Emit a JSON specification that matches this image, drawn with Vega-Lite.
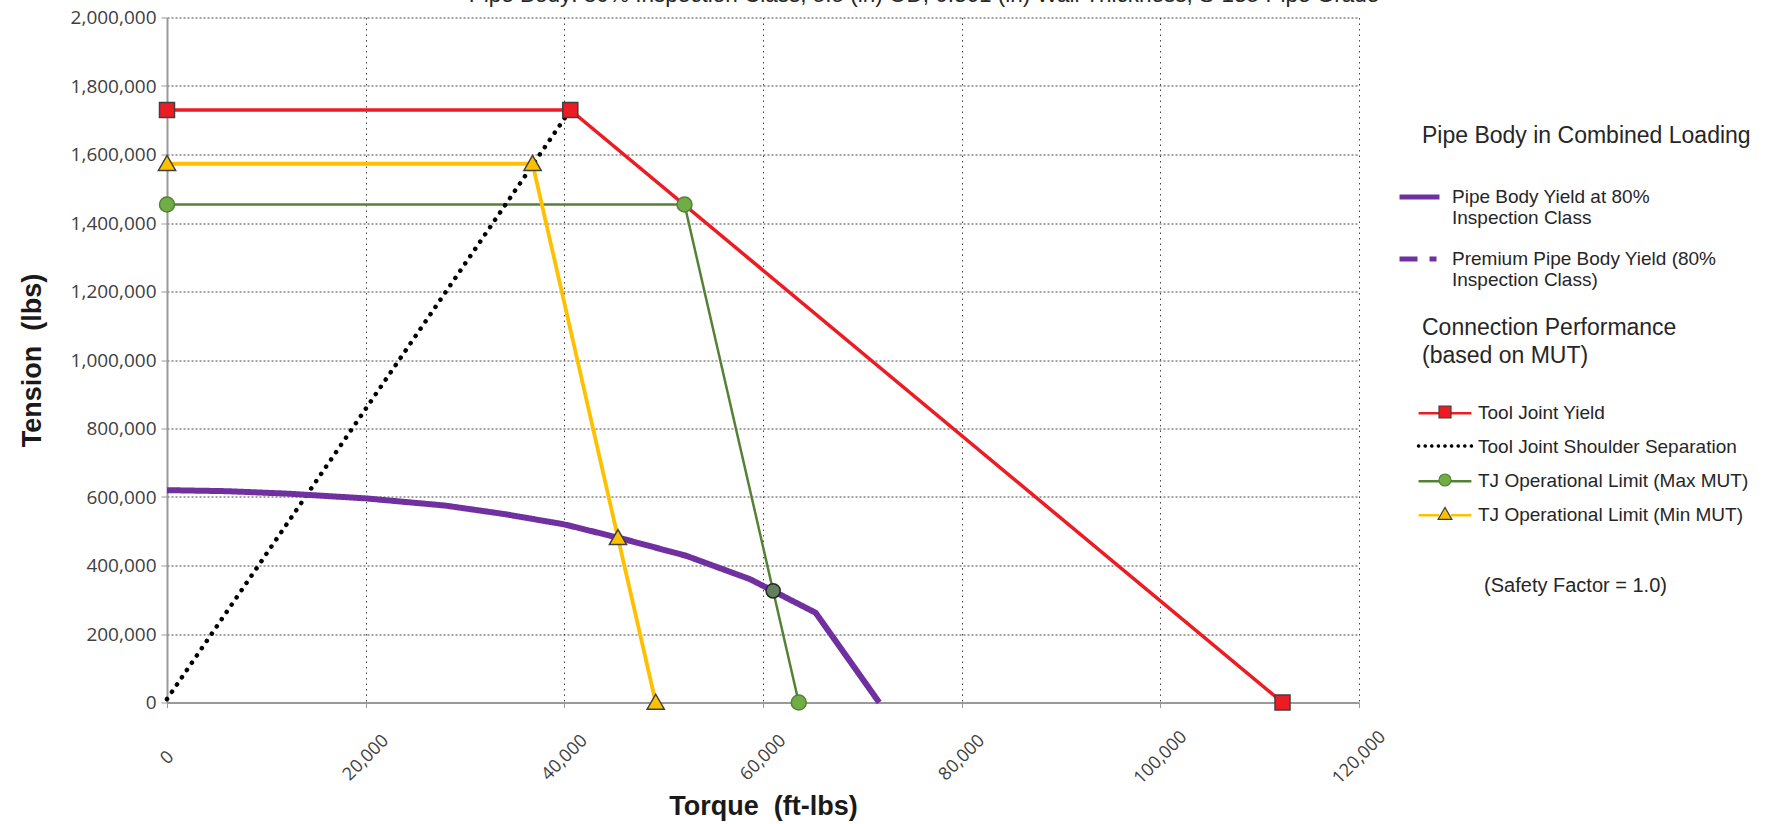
{
  "$schema": "https://vega.github.io/schema/vega-lite/v6.json",
  "width": 1192,
  "height": 685,
  "autosize": {"type": "none"},
  "padding": {"left": 167, "top": 17.5, "right": 412, "bottom": 121.5},
  "background": "white",
  "config": {
    "view": {"stroke": null},
    "legend": {
      "titleFont": "Liberation Sans",
      "titleFontWeight": "normal",
      "titleColor": "#262626",
      "labelFont": "Liberation Sans",
      "labelColor": "#262626",
      "labelLimit": 600,
      "titleLimit": 600,
      "padding": 0
    }
  },
  "title": {
    "text": "Pipe Body: 80% Inspection Class; 5.5 (in) OD; 0.361 (in) Wall Thickness; S-135 Pipe Grade",
    "font": "Liberation Sans",
    "fontSize": 22.5,
    "fontWeight": "normal",
    "color": "#262626",
    "anchor": "middle",
    "dx": 161,
    "dy": 16,
    "offset": 0.5,
    "baseline": "alphabetic"
  },
  "datasets": {
    "conn": [
      {"series": "Tool Joint Yield", "torque": 0, "tension": 1730000, "kind": "vertex"},
      {"series": "Tool Joint Yield", "torque": 40600, "tension": 1730000, "kind": "vertex"},
      {"series": "Tool Joint Yield", "torque": 112300, "tension": 0, "kind": "vertex"},
      {"series": "Tool Joint Shoulder Separation", "torque": 0, "tension": 10000, "kind": "vertex"},
      {"series": "Tool Joint Shoulder Separation", "torque": 40600, "tension": 1730000, "kind": "vertex"},
      {"series": "TJ Operational Limit (Max MUT)", "torque": 0, "tension": 1454000, "kind": "vertex"},
      {"series": "TJ Operational Limit (Max MUT)", "torque": 52100, "tension": 1454000, "kind": "vertex"},
      {"series": "TJ Operational Limit (Max MUT)", "torque": 61020, "tension": 326000, "kind": "intersection"},
      {"series": "TJ Operational Limit (Max MUT)", "torque": 63600, "tension": 0, "kind": "vertex"},
      {"series": "TJ Operational Limit (Min MUT)", "torque": 0, "tension": 1573000, "kind": "vertex"},
      {"series": "TJ Operational Limit (Min MUT)", "torque": 36800, "tension": 1573000, "kind": "vertex"},
      {"series": "TJ Operational Limit (Min MUT)", "torque": 45400, "tension": 481000, "kind": "intersection"},
      {"series": "TJ Operational Limit (Min MUT)", "torque": 49200, "tension": 0, "kind": "vertex"}
    ],
    "pipe": [
      {"curve": "Pipe Body Yield at 80% Inspection Class", "torque": 0, "tension": 620000},
      {"curve": "Pipe Body Yield at 80% Inspection Class", "torque": 6000, "tension": 617000},
      {"curve": "Pipe Body Yield at 80% Inspection Class", "torque": 12000, "tension": 610000},
      {"curve": "Pipe Body Yield at 80% Inspection Class", "torque": 20000, "tension": 596000},
      {"curve": "Pipe Body Yield at 80% Inspection Class", "torque": 28000, "tension": 575000},
      {"curve": "Pipe Body Yield at 80% Inspection Class", "torque": 34000, "tension": 550000},
      {"curve": "Pipe Body Yield at 80% Inspection Class", "torque": 40000, "tension": 520000},
      {"curve": "Pipe Body Yield at 80% Inspection Class", "torque": 46000, "tension": 477000},
      {"curve": "Pipe Body Yield at 80% Inspection Class", "torque": 52300, "tension": 428000},
      {"curve": "Pipe Body Yield at 80% Inspection Class", "torque": 58700, "tension": 360000},
      {"curve": "Pipe Body Yield at 80% Inspection Class", "torque": 65300, "tension": 262000},
      {"curve": "Pipe Body Yield at 80% Inspection Class", "torque": 71700, "tension": 0}
    ]
  },
  "encoding": {
    "x": {
      "field": "torque",
      "type": "quantitative",
      "scale": {"domain": [0, 120000], "nice": false},
      "axis": {
        "title": "Torque\u00a0 (ft-lbs)",
        "values": [0, 20000, 40000, 60000, 80000, 100000, 120000],
        "format": ",.0f",
        "labelAngle": -45,
        "labelAlign": "center",
        "labelBaseline": "middle",
        "labelPadding": 50,
        "labelFont": "Open Sans",
        "labelFontSize": 18,
        "labelColor": "#404040",
        "labelOverlap": false,
        "tickSize": 5,
        "tickColor": "#999999",
        "domainColor": "#999999",
        "domainWidth": 2,
        "grid": true,
        "gridColor": "#444444",
        "gridDash": [1.5, 4],
        "gridWidth": 1,
        "titleFont": "Liberation Sans",
        "titleFontSize": 27,
        "titleFontWeight": "bold",
        "titleColor": "#1a1a1a",
        "titlePadding": 6
      }
    },
    "y": {
      "field": "tension",
      "type": "quantitative",
      "scale": {"domain": [0, 2000000], "nice": false},
      "axis": {
        "title": "Tension\u00a0 (lbs)",
        "values": [0, 200000, 400000, 600000, 800000, 1000000, 1200000, 1400000, 1600000, 1800000, 2000000],
        "format": ",.0f",
        "labelFont": "Open Sans",
        "labelFontSize": 19,
        "labelColor": "#404040",
        "labelPadding": 5,
        "tickSize": 6,
        "tickColor": "#999999",
        "domainColor": "#999999",
        "domainWidth": 2,
        "grid": true,
        "gridColor": "#444444",
        "gridDash": [2, 2],
        "gridWidth": 1,
        "titleFont": "Liberation Sans",
        "titleFontSize": 27,
        "titleFontWeight": "bold",
        "titleColor": "#1a1a1a",
        "titlePadding": 24
      }
    }
  },
  "layer": [
    {
      "data": {"name": "conn"},
      "transform": [{"filter": "datum.series === 'TJ Operational Limit (Max MUT)'"}],
      "mark": {"type": "line", "strokeWidth": 2.5},
      "encoding": {
        "color": {
          "field": "series",
          "type": "nominal",
          "scale": {
            "domain": ["Tool Joint Yield", "Tool Joint Shoulder Separation", "TJ Operational Limit (Max MUT)", "TJ Operational Limit (Min MUT)"],
            "range": ["#ed1c24", "transparent", "#548235", "#ffc000"]
          },
          "legend": {
            "title": ["Connection Performance", "(based on MUT)"],
            "orient": "none",
            "legendX": 1255,
            "legendY": 299.3,
            "titleFontSize": 23,
            "titleLineHeight": 28,
            "titlePadding": 36,
            "labelFontSize": 19,
            "labelOffset": 37,
            "symbolSize": 144,
            "symbolType": "M-2.15,0H1.25M3.25,0H6.65",
            "symbolStrokeWidth": 2.5,
            "rowPadding": 14
          }
        }
      }
    },
    {
      "data": {"name": "conn"},
      "transform": [{"filter": "datum.series === 'TJ Operational Limit (Min MUT)'"}],
      "mark": {"type": "line", "strokeWidth": 3.8},
      "encoding": {"color": {"field": "series", "type": "nominal"}}
    },
    {
      "data": {"name": "conn"},
      "transform": [{"filter": "datum.series === 'Tool Joint Yield'"}],
      "mark": {"type": "line", "strokeWidth": 3.5},
      "encoding": {"color": {"field": "series", "type": "nominal"}}
    },
    {
      "data": {"name": "conn"},
      "transform": [{"filter": "datum.series === 'Tool Joint Shoulder Separation'"}],
      "mark": {"type": "line", "color": "#000000", "strokeWidth": 4.5, "strokeDash": [0.1, 8.7], "strokeCap": "round"}
    },
    {
      "data": {"name": "pipe"},
      "mark": {"type": "line", "color": "#7030a0", "strokeWidth": 6},
      "encoding": {
        "strokeDash": {
          "field": "curve",
          "type": "nominal",
          "scale": {
            "domain": ["Pipe Body Yield at 80% Inspection Class", "Premium Pipe Body Yield (80% Inspection Class)"],
            "range": [[1, 0], [18, 12, 7, 30]]
          },
          "legend": {
            "title": "Pipe Body in Combined Loading",
            "orient": "none",
            "legendX": 1255,
            "legendY": 107,
            "titleFontSize": 23,
            "titlePadding": 40,
            "labelFontSize": 19,
            "labelLineHeight": 23,
            "labelOffset": 11,
            "labelBaseline": "middle",
            "symbolSize": 144,
            "symbolType": "M-5.33,0H1.33",
            "symbolStrokeWidth": 5,
            "symbolStrokeColor": "#7030a0",
            "rowPadding": 20,
            "labelExpr": "datum.value === 'Pipe Body Yield at 80% Inspection Class' ? ['Pipe Body Yield at 80%', 'Inspection Class'] : ['Premium Pipe Body Yield (80%', 'Inspection Class)']"
          }
        }
      }
    },
    {
      "data": {"name": "conn"},
      "transform": [{"filter": "datum.series !== 'Tool Joint Shoulder Separation' && !(datum.kind === 'intersection' && datum.series === 'TJ Operational Limit (Max MUT)')"}],
      "mark": {"type": "point", "filled": true, "size": 225, "strokeWidth": 1.5, "opacity": 1},
      "encoding": {
        "shape": {
          "field": "series",
          "type": "nominal",
          "scale": {
            "domain": ["Tool Joint Shoulder Separation", "Tool Joint Yield", "TJ Operational Limit (Max MUT)", "TJ Operational Limit (Min MUT)"],
            "range": [
              "M-4.7,0M4.7,0M-4.6,0A0.2,0.2,0,1,1,-4.2,0A0.2,0.2,0,1,1,-4.6,0ZM-3.5,0A0.2,0.2,0,1,1,-3.1,0A0.2,0.2,0,1,1,-3.5,0ZM-2.4,0A0.2,0.2,0,1,1,-2.0,0A0.2,0.2,0,1,1,-2.4,0ZM-1.3,0A0.2,0.2,0,1,1,-0.9,0A0.2,0.2,0,1,1,-1.3,0ZM-0.2,0A0.2,0.2,0,1,1,0.2,0A0.2,0.2,0,1,1,-0.2,0ZM0.9,0A0.2,0.2,0,1,1,1.3,0A0.2,0.2,0,1,1,0.9,0ZM2.0,0A0.2,0.2,0,1,1,2.4,0A0.2,0.2,0,1,1,2.0,0ZM3.1,0A0.2,0.2,0,1,1,3.5,0A0.2,0.2,0,1,1,3.1,0ZM4.2,0A0.2,0.2,0,1,1,4.6,0A0.2,0.2,0,1,1,4.2,0Z",
              "M-4.7,0M4.7,0M-1,-1H1V1H-1Z",
              "M-4.7,0M4.7,0M-1,0A1,1,0,1,1,1,0A1,1,0,1,1,-1,0Z",
              "M-4.7,0M4.7,0M0,-1.1L1.15,0.9H-1.15Z"
            ]
          },
          "legend": {
            "title": "(Safety Factor = 1.0)",
            "titleOrient": "bottom",
            "titleAnchor": "middle",
            "titleFontSize": 20,
            "titlePadding": 51.8,
            "orient": "none",
            "legendX": 1268.5,
            "legendY": 385,
            "values": ["Tool Joint Yield", "Tool Joint Shoulder Separation", "TJ Operational Limit (Max MUT)", "TJ Operational Limit (Min MUT)"],
            "labelExpr": "' '",
            "labelFontSize": 19,
            "labelOffset": 261,
            "symbolSize": 144,
            "symbolStrokeWidth": 1.2,
            "rowPadding": 14
          }
        },
        "fill": {
          "field": "series",
          "type": "nominal",
          "scale": {
            "domain": ["Tool Joint Shoulder Separation", "Tool Joint Yield", "TJ Operational Limit (Max MUT)", "TJ Operational Limit (Min MUT)"],
            "range": ["#000000", "#ed1c24", "#70ad47", "#ffc000"]
          }
        },
        "stroke": {
          "field": "series",
          "type": "nominal",
          "scale": {
            "domain": ["Tool Joint Shoulder Separation", "Tool Joint Yield", "TJ Operational Limit (Max MUT)", "TJ Operational Limit (Min MUT)"],
            "range": ["#000000", "#404040", "#548235", "#404040"]
          }
        }
      }
    },
    {
      "data": {"name": "conn"},
      "transform": [{"filter": "datum.kind === 'intersection' && datum.series === 'TJ Operational Limit (Max MUT)'"}],
      "mark": {"type": "point", "shape": "circle", "filled": true, "size": 200, "fill": "#62805f", "stroke": "#262626", "strokeWidth": 1.5, "opacity": 1}
    }
  ]
}
